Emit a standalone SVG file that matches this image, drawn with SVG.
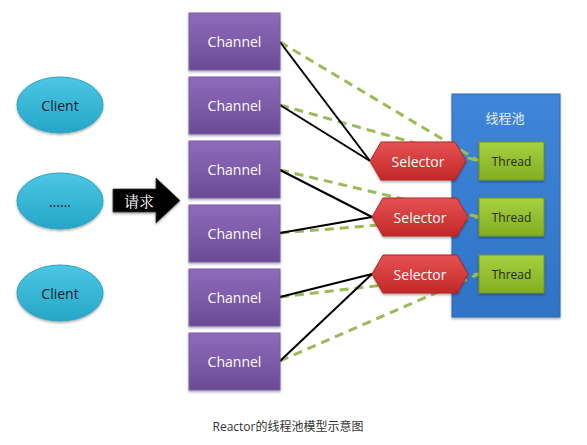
<svg xmlns="http://www.w3.org/2000/svg" width="587" height="445" viewBox="0 0 587 445">
<defs>
  <linearGradient id="gCh" x1="0" y1="0" x2="0" y2="1">
    <stop offset="0" stop-color="#8e6cbb"/>
    <stop offset="1" stop-color="#6b4a94"/>
  </linearGradient>
  <linearGradient id="gCl" x1="0" y1="0" x2="0" y2="1">
    <stop offset="0" stop-color="#4cc6e3"/>
    <stop offset="1" stop-color="#25a6c7"/>
  </linearGradient>
  <linearGradient id="gSel" x1="0" y1="0" x2="0" y2="1">
    <stop offset="0" stop-color="#e55252"/>
    <stop offset="1" stop-color="#c42727"/>
  </linearGradient>
  <linearGradient id="gTh" x1="0" y1="0" x2="0" y2="1">
    <stop offset="0" stop-color="#a6d13f"/>
    <stop offset="1" stop-color="#84ad24"/>
  </linearGradient>
  <linearGradient id="gPool" x1="0" y1="0" x2="0" y2="1">
    <stop offset="0" stop-color="#3f86d8"/>
    <stop offset="1" stop-color="#2f73c6"/>
  </linearGradient>
  <filter id="sh" x="-10%" y="-10%" width="130%" height="140%">
    <feDropShadow dx="0" dy="1.5" stdDeviation="1.2" flood-color="#000" flood-opacity="0.35"/>
  </filter>
</defs>
<style>
  .ch { fill: url(#gCh); stroke: #7a5ca8; stroke-width: 1; filter: url(#sh); }
  .chT { fill: #ffffff; font-family: "Open Sans", "Liberation Sans", sans-serif; font-size: 14px; text-anchor: middle; dominant-baseline: central; }
  .cl { fill: url(#gCl); stroke: #2aa2c2; stroke-width: 1; filter: url(#sh); }
  .clT { fill: #1a1a2a; font-family: "Open Sans", "Liberation Sans", sans-serif; font-size: 14px; text-anchor: middle; dominant-baseline: central; }
  .sel { fill: url(#gSel); stroke: #b82222; stroke-width: 1; filter: url(#sh); }
  .selT { fill: #ffffff; font-family: "Open Sans", "Liberation Sans", sans-serif; font-size: 14px; text-anchor: middle; dominant-baseline: central; }
  .th { fill: url(#gTh); stroke: #6e9420; stroke-width: 1; filter: url(#sh); }
  .thT { fill: #1e2a0a; font-family: "Open Sans", "Liberation Sans", sans-serif; font-size: 12px; text-anchor: middle; dominant-baseline: central; }
  .solid { stroke: #000000; stroke-width: 2; fill: none; }
  .dash { stroke: #9bbb59; stroke-width: 3; stroke-dasharray: 9 6; fill: none; }
</style>
<rect width="587" height="445" fill="#ffffff"/>

<g id="thread-pool">
  <rect x="452" y="94" width="108" height="223" fill="url(#gPool)" stroke="#2c6bb8" stroke-width="1" filter="url(#sh)"/>
  <text x="505" y="117" fill="#e6eefa" font-family="'Noto Sans CJK SC', sans-serif" font-size="13" text-anchor="middle" dominant-baseline="central">线程池</text>
</g>

<g id="connectors">
  <line class="dash" x1="280" y1="42" x2="479" y2="161"/>
  <line class="dash" x1="280" y1="105" x2="479" y2="161"/>
  <line class="dash" x1="280" y1="170" x2="479" y2="217"/>
  <line class="dash" x1="280" y1="233" x2="479" y2="217"/>
  <line class="dash" x1="280" y1="297" x2="479" y2="274"/>
  <line class="dash" x1="280" y1="361" x2="479" y2="274"/>
  <line class="solid" x1="280" y1="42" x2="370" y2="161"/>
  <line class="solid" x1="280" y1="105" x2="370" y2="161"/>
  <line class="solid" x1="280" y1="170" x2="372" y2="217"/>
  <line class="solid" x1="280" y1="233" x2="372" y2="217"/>
  <line class="solid" x1="280" y1="297" x2="372" y2="274"/>
  <line class="solid" x1="280" y1="361" x2="372" y2="274"/>
</g>

<g id="client-1"><ellipse class="cl" cx="60" cy="105" rx="43" ry="28"/><text class="clT" x="60" y="105">Client</text></g>
<g id="client-2"><ellipse class="cl" cx="60" cy="201" rx="43" ry="28"/><text class="clT" x="60" y="201">……</text></g>
<g id="client-3"><ellipse class="cl" cx="60" cy="293" rx="43" ry="28"/><text class="clT" x="60" y="293">Client</text></g>

<g id="request-arrow">
  <path d="M113,189 H156 V178 L180,200.5 L156,223 V212 H113 Z" fill="#000000" stroke="#333" stroke-width="0.8" filter="url(#sh)"/>
  <text x="139" y="200" fill="#ffffff" font-family="'Noto Serif CJK SC', 'Noto Sans CJK SC', sans-serif" font-size="15" text-anchor="middle" dominant-baseline="central">请求</text>
</g>

<g id="channel-1"><rect class="ch" x="189" y="13" width="91" height="57"/><text class="chT" x="234.5" y="41.5">Channel</text></g>
<g id="channel-2"><rect class="ch" x="189" y="77" width="91" height="57"/><text class="chT" x="234.5" y="105.5">Channel</text></g>
<g id="channel-3"><rect class="ch" x="189" y="141" width="91" height="57"/><text class="chT" x="234.5" y="169.5">Channel</text></g>
<g id="channel-4"><rect class="ch" x="189" y="205" width="91" height="57"/><text class="chT" x="234.5" y="233.5">Channel</text></g>
<g id="channel-5"><rect class="ch" x="189" y="269" width="91" height="57"/><text class="chT" x="234.5" y="297.5">Channel</text></g>
<g id="channel-6"><rect class="ch" x="189" y="333" width="91" height="57"/><text class="chT" x="234.5" y="361.5">Channel</text></g>

<g id="selector-1"><polygon class="sel" points="370,161 381,142 455,142 466,161 455,180 381,180"/><text class="selT" x="418" y="161">Selector</text></g>
<g id="selector-2"><polygon class="sel" points="372,217 383,198 457,198 468,217 457,236 383,236"/><text class="selT" x="420" y="217">Selector</text></g>
<g id="selector-3"><polygon class="sel" points="372,274 383,255 457,255 468,274 457,293 383,293"/><text class="selT" x="420" y="274">Selector</text></g>

<g id="thread-1"><rect class="th" x="479" y="142" width="65" height="38"/><text class="thT" x="511.5" y="161">Thread</text></g>
<g id="thread-2"><rect class="th" x="479" y="198" width="65" height="38"/><text class="thT" x="511.5" y="217">Thread</text></g>
<g id="thread-3"><rect class="th" x="479" y="255" width="65" height="38"/><text class="thT" x="511.5" y="274">Thread</text></g>

<text id="caption" x="288" y="426" fill="#333333" font-family="'Open Sans', 'Noto Sans CJK SC', sans-serif" font-size="12" text-anchor="middle" dominant-baseline="central">Reactor的线程池模型示意图</text>
</svg>
